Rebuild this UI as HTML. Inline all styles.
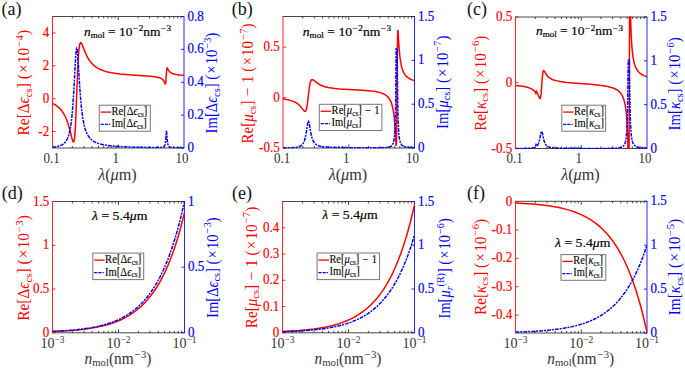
<!DOCTYPE html><html><head><meta charset="utf-8"><style>html,body{margin:0;padding:0;background:#fff;}svg{display:block;}svg text{font-family:"Liberation Serif",serif;}</style></head><body><svg width="685" height="370" viewBox="0 0 685 370">
<rect width="685" height="370" fill="#fff"/>
<defs>
<clipPath id="ca"><rect x="52.00" y="16.00" width="132.50" height="132.50"/></clipPath>
<clipPath id="cb"><rect x="282.50" y="16.00" width="132.50" height="132.50"/></clipPath>
<clipPath id="cc"><rect x="515.00" y="16.50" width="132.50" height="132.50"/></clipPath>
<clipPath id="cd"><rect x="52.00" y="201.00" width="133.00" height="132.30"/></clipPath>
<clipPath id="ce"><rect x="282.00" y="201.00" width="133.00" height="132.30"/></clipPath>
<clipPath id="cf"><rect x="515.00" y="200.80" width="132.50" height="132.70"/></clipPath>
</defs>
<path d="M72.29 16.50v2.0M72.29 148.00v-2.0M83.87 16.50v2.0M83.87 148.00v-2.0M92.09 16.50v2.0M92.09 148.00v-2.0M98.46 16.50v2.0M98.46 148.00v-2.0M103.66 16.50v2.0M103.66 148.00v-2.0M108.07 16.50v2.0M108.07 148.00v-2.0M111.88 16.50v2.0M111.88 148.00v-2.0M115.24 16.50v2.0M115.24 148.00v-2.0M118.25 16.50v3.5M118.25 148.00v-3.5M138.04 16.50v2.0M138.04 148.00v-2.0M149.62 16.50v2.0M149.62 148.00v-2.0M157.84 16.50v2.0M157.84 148.00v-2.0M164.21 16.50v2.0M164.21 148.00v-2.0M169.41 16.50v2.0M169.41 148.00v-2.0M173.82 16.50v2.0M173.82 148.00v-2.0M177.63 16.50v2.0M177.63 148.00v-2.0M180.99 16.50v2.0M180.99 148.00v-2.0" stroke="#262626" stroke-width="0.85" fill="none"/>
<path d="M52.50 16.50H184.00M52.50 148.00H184.00" stroke="#262626" stroke-width="0.85" fill="none"/>
<path d="M302.79 16.50v2.0M302.79 148.00v-2.0M314.37 16.50v2.0M314.37 148.00v-2.0M322.59 16.50v2.0M322.59 148.00v-2.0M328.96 16.50v2.0M328.96 148.00v-2.0M334.16 16.50v2.0M334.16 148.00v-2.0M338.57 16.50v2.0M338.57 148.00v-2.0M342.38 16.50v2.0M342.38 148.00v-2.0M345.74 16.50v2.0M345.74 148.00v-2.0M348.75 16.50v3.5M348.75 148.00v-3.5M368.54 16.50v2.0M368.54 148.00v-2.0M380.12 16.50v2.0M380.12 148.00v-2.0M388.34 16.50v2.0M388.34 148.00v-2.0M394.71 16.50v2.0M394.71 148.00v-2.0M399.91 16.50v2.0M399.91 148.00v-2.0M404.32 16.50v2.0M404.32 148.00v-2.0M408.13 16.50v2.0M408.13 148.00v-2.0M411.49 16.50v2.0M411.49 148.00v-2.0" stroke="#262626" stroke-width="0.85" fill="none"/>
<path d="M283.00 16.50H414.50M283.00 148.00H414.50" stroke="#262626" stroke-width="0.85" fill="none"/>
<path d="M535.29 17.00v2.0M535.29 148.50v-2.0M546.87 17.00v2.0M546.87 148.50v-2.0M555.09 17.00v2.0M555.09 148.50v-2.0M561.46 17.00v2.0M561.46 148.50v-2.0M566.66 17.00v2.0M566.66 148.50v-2.0M571.07 17.00v2.0M571.07 148.50v-2.0M574.88 17.00v2.0M574.88 148.50v-2.0M578.24 17.00v2.0M578.24 148.50v-2.0M581.25 17.00v3.5M581.25 148.50v-3.5M601.04 17.00v2.0M601.04 148.50v-2.0M612.62 17.00v2.0M612.62 148.50v-2.0M620.84 17.00v2.0M620.84 148.50v-2.0M627.21 17.00v2.0M627.21 148.50v-2.0M632.41 17.00v2.0M632.41 148.50v-2.0M636.82 17.00v2.0M636.82 148.50v-2.0M640.63 17.00v2.0M640.63 148.50v-2.0M643.99 17.00v2.0M643.99 148.50v-2.0" stroke="#262626" stroke-width="0.85" fill="none"/>
<path d="M515.50 17.00H647.00M515.50 148.50H647.00" stroke="#262626" stroke-width="0.85" fill="none"/>
<path d="M72.37 201.50v2.0M72.37 332.80v-2.0M83.99 201.50v2.0M83.99 332.80v-2.0M92.24 201.50v2.0M92.24 332.80v-2.0M98.63 201.50v2.0M98.63 332.80v-2.0M103.86 201.50v2.0M103.86 332.80v-2.0M108.28 201.50v2.0M108.28 332.80v-2.0M112.10 201.50v2.0M112.10 332.80v-2.0M115.48 201.50v2.0M115.48 332.80v-2.0M118.50 201.50v3.5M118.50 332.80v-3.5M138.37 201.50v2.0M138.37 332.80v-2.0M149.99 201.50v2.0M149.99 332.80v-2.0M158.24 201.50v2.0M158.24 332.80v-2.0M164.63 201.50v2.0M164.63 332.80v-2.0M169.86 201.50v2.0M169.86 332.80v-2.0M174.28 201.50v2.0M174.28 332.80v-2.0M178.10 201.50v2.0M178.10 332.80v-2.0M181.48 201.50v2.0M181.48 332.80v-2.0" stroke="#262626" stroke-width="0.85" fill="none"/>
<path d="M52.50 201.50H184.50M52.50 332.80H184.50" stroke="#262626" stroke-width="0.85" fill="none"/>
<path d="M302.37 201.50v2.0M302.37 332.80v-2.0M313.99 201.50v2.0M313.99 332.80v-2.0M322.24 201.50v2.0M322.24 332.80v-2.0M328.63 201.50v2.0M328.63 332.80v-2.0M333.86 201.50v2.0M333.86 332.80v-2.0M338.28 201.50v2.0M338.28 332.80v-2.0M342.10 201.50v2.0M342.10 332.80v-2.0M345.48 201.50v2.0M345.48 332.80v-2.0M348.50 201.50v3.5M348.50 332.80v-3.5M368.37 201.50v2.0M368.37 332.80v-2.0M379.99 201.50v2.0M379.99 332.80v-2.0M388.24 201.50v2.0M388.24 332.80v-2.0M394.63 201.50v2.0M394.63 332.80v-2.0M399.86 201.50v2.0M399.86 332.80v-2.0M404.28 201.50v2.0M404.28 332.80v-2.0M408.10 201.50v2.0M408.10 332.80v-2.0M411.48 201.50v2.0M411.48 332.80v-2.0" stroke="#262626" stroke-width="0.85" fill="none"/>
<path d="M282.50 201.50H414.50M282.50 332.80H414.50" stroke="#262626" stroke-width="0.85" fill="none"/>
<path d="M535.29 201.30v2.0M535.29 333.00v-2.0M546.87 201.30v2.0M546.87 333.00v-2.0M555.09 201.30v2.0M555.09 333.00v-2.0M561.46 201.30v2.0M561.46 333.00v-2.0M566.66 201.30v2.0M566.66 333.00v-2.0M571.07 201.30v2.0M571.07 333.00v-2.0M574.88 201.30v2.0M574.88 333.00v-2.0M578.24 201.30v2.0M578.24 333.00v-2.0M581.25 201.30v3.5M581.25 333.00v-3.5M601.04 201.30v2.0M601.04 333.00v-2.0M612.62 201.30v2.0M612.62 333.00v-2.0M620.84 201.30v2.0M620.84 333.00v-2.0M627.21 201.30v2.0M627.21 333.00v-2.0M632.41 201.30v2.0M632.41 333.00v-2.0M636.82 201.30v2.0M636.82 333.00v-2.0M640.63 201.30v2.0M640.63 333.00v-2.0M643.99 201.30v2.0M643.99 333.00v-2.0" stroke="#262626" stroke-width="0.85" fill="none"/>
<path d="M515.50 201.30H647.00M515.50 333.00H647.00" stroke="#262626" stroke-width="0.85" fill="none"/>
<path d="M52.50 131.56h3M52.50 98.69h3M52.50 65.81h3M52.50 32.94h3" stroke="#ff0000" stroke-width="0.85" fill="none"/>
<path d="M184.00 148.00h-3M184.00 115.12h-3M184.00 82.25h-3M184.00 49.38h-3M184.00 16.50h-3" stroke="#0000ff" stroke-width="0.85" fill="none"/>
<path d="M283.00 148.00h3M283.00 97.62h3M283.00 47.23h3" stroke="#ff0000" stroke-width="0.85" fill="none"/>
<path d="M414.50 148.00h-3M414.50 104.17h-3M414.50 60.33h-3M414.50 16.50h-3" stroke="#0000ff" stroke-width="0.85" fill="none"/>
<path d="M515.50 148.50h3M515.50 82.75h3M515.50 17.00h3" stroke="#ff0000" stroke-width="0.85" fill="none"/>
<path d="M647.00 148.50h-3M647.00 104.67h-3M647.00 60.83h-3M647.00 17.00h-3" stroke="#0000ff" stroke-width="0.85" fill="none"/>
<path d="M52.50 332.80h3M52.50 289.03h3M52.50 245.27h3M52.50 201.50h3" stroke="#ff0000" stroke-width="0.85" fill="none"/>
<path d="M184.50 332.80h-3M184.50 267.15h-3M184.50 201.50h-3" stroke="#0000ff" stroke-width="0.85" fill="none"/>
<path d="M282.50 332.80h3M282.50 306.54h3M282.50 280.28h3M282.50 254.02h3M282.50 227.76h3" stroke="#ff0000" stroke-width="0.85" fill="none"/>
<path d="M414.50 332.80h-3M414.50 289.03h-3M414.50 245.27h-3M414.50 201.50h-3" stroke="#0000ff" stroke-width="0.85" fill="none"/>
<path d="M515.50 201.58h3M515.50 229.97h3M515.50 258.35h3M515.50 286.73h3M515.50 315.12h3" stroke="#ff0000" stroke-width="0.85" fill="none"/>
<path d="M647.00 333.00h-3M647.00 289.10h-3M647.00 245.20h-3M647.00 201.30h-3" stroke="#0000ff" stroke-width="0.85" fill="none"/>
<path d="M52.50 16.10V148.40" stroke="#ff0000" stroke-width="0.85"/>
<path d="M184.00 16.10V148.40" stroke="#0000ff" stroke-width="0.85"/>
<path d="M283.00 16.10V148.40" stroke="#ff0000" stroke-width="0.85"/>
<path d="M414.50 16.10V148.40" stroke="#0000ff" stroke-width="0.85"/>
<path d="M515.50 16.60V148.90" stroke="#ff0000" stroke-width="0.85"/>
<path d="M647.00 16.60V148.90" stroke="#0000ff" stroke-width="0.85"/>
<path d="M52.50 201.10V333.20" stroke="#ff0000" stroke-width="0.85"/>
<path d="M184.50 201.10V333.20" stroke="#0000ff" stroke-width="0.85"/>
<path d="M282.50 201.10V333.20" stroke="#ff0000" stroke-width="0.85"/>
<path d="M414.50 201.10V333.20" stroke="#0000ff" stroke-width="0.85"/>
<path d="M515.50 200.90V333.40" stroke="#ff0000" stroke-width="0.85"/>
<path d="M647.00 200.90V333.40" stroke="#0000ff" stroke-width="0.85"/>
<path d="M52.50,103.34L56.08,105.40L57.70,106.60L59.18,107.90L60.56,109.33L61.87,110.93L64.21,114.54L66.25,118.77L68.09,123.81L69.47,128.53L71.84,138.01L72.62,140.71L73.28,141.95L73.58,141.98L73.84,141.61L74.30,139.83L74.70,136.84L75.49,125.75L77.62,71.88L78.48,55.49L78.94,49.82L79.43,45.87L79.99,43.47L80.29,42.87L80.62,42.62L80.91,42.68L81.21,42.94L81.93,44.19L85.19,52.40L87.16,56.62L89.03,59.82L91.07,62.57L93.80,65.35L96.89,67.65L100.48,69.57L104.65,71.15L107.74,72.01L111.20,72.77L119.45,73.99L128.95,74.85L150.13,76.23L154.41,76.66L157.53,77.17L160.42,78.04L161.50,78.59L162.40,79.25L163.12,79.98L163.75,80.87L165.23,83.89L165.49,83.89L165.55,83.78L165.80,82.45L166.63,70.42L166.86,68.60L167.14,67.94L167.45,68.17L168.56,70.34L169.45,71.58L170.56,72.56L171.95,73.33L173.87,73.97L176.37,74.47L179.66,74.88L184.00,75.23" stroke="#ff0000" stroke-width="1.5" fill="none" clip-path="url(#ca)"/>
<path d="M52.50,147.27L56.41,146.72L59.47,145.96L61.94,144.91L63.98,143.50L65.69,141.65L67.13,139.28L68.38,136.25L69.43,132.61L70.29,128.54L71.05,123.78L71.74,118.17L72.39,111.37L73.58,94.69L75.68,56.40L76.24,50.06L76.50,48.58L76.73,48.17L76.97,48.58L77.23,50.00L77.75,55.42L79.73,86.86L80.75,100.48L81.70,110.15L82.72,117.81L84.20,125.50L85.05,128.68L86.01,131.48L87.06,133.90L88.21,135.95L89.53,137.77L90.97,139.31L92.45,140.53L94.13,141.60L96.00,142.53L98.14,143.35L100.54,144.06L103.27,144.67L109.91,145.67L119.58,146.49L132.50,147.10L152.43,147.54L158.35,147.56L161.44,147.42L162.84,147.17L163.78,146.74L164.44,146.04L164.93,144.97L165.31,143.38L165.61,141.09L166.32,131.56L166.59,131.56L167.17,139.42L167.55,142.77L168.11,145.11L168.48,145.88L168.95,146.45L169.51,146.85L170.22,147.14L172.39,147.51L176.31,147.70L184.00,147.81" stroke="#0000ff" stroke-width="1.5" fill="none" stroke-dasharray="3.8 1.0 2.0 1.1" clip-path="url(#ca)"/>
<path d="M283.00,98.98L286.91,99.61L290.23,100.38L293.10,101.34L295.56,102.49L297.70,103.87L299.61,105.51L301.09,107.13L304.21,111.03L304.87,111.42L305.39,111.32L305.85,110.75L306.25,109.78L307.00,106.36L307.66,101.64L309.14,88.85L310.00,83.55L310.46,81.73L310.95,80.49L311.48,79.78L312.10,79.52L312.63,79.61L313.29,79.96L317.30,83.19L320.32,85.00L323.97,86.46L328.41,87.58L333.34,88.35L339.46,88.96L362.64,90.23L370.70,90.88L374.42,91.36L377.61,91.94L380.33,92.64L382.67,93.46L384.51,94.35L386.12,95.38L387.54,96.58L388.75,97.95L389.84,99.57L390.76,101.37L391.59,103.51L392.33,105.98L393.46,111.61L394.37,118.94L395.08,127.98L396.00,143.87L396.24,145.89L396.46,142.79L396.65,132.86L397.34,49.39L397.54,36.14L397.76,30.71L397.94,30.72L398.06,31.87L399.10,48.11L399.96,57.26L401.01,64.16L401.64,66.95L402.36,69.38L403.23,71.64L404.24,73.59L405.39,75.25L406.74,76.69L408.29,77.92L410.06,78.96L412.13,79.85L414.50,80.59" stroke="#ff0000" stroke-width="1.5" fill="none" clip-path="url(#cb)"/>
<path d="M283.00,147.91L291.55,147.68L296.61,147.19L298.42,146.80L299.90,146.27L301.12,145.59L302.17,144.70L303.03,143.63L303.75,142.35L304.41,140.75L305.00,138.82L306.02,134.00L307.66,123.43L308.06,121.84L308.42,121.32L308.78,121.78L309.18,123.25L310.65,131.92L311.41,135.61L312.13,138.26L312.92,140.37L314.04,142.40L315.42,143.96L317.13,145.12L319.30,145.97L321.60,146.51L324.50,146.91L333.02,147.44L348.34,147.75L372.08,147.86L381.42,147.78L386.52,147.51L389.57,146.94L390.66,146.48L391.53,145.88L392.28,145.04L392.89,143.96L393.40,142.56L393.82,140.80L394.49,135.85L394.98,128.39L395.36,117.27L395.66,101.52L396.14,48.67L397.21,48.67L397.56,90.10L397.99,115.42L398.60,130.74L399.01,135.74L399.53,139.44L400.12,141.89L400.87,143.72L401.84,145.05L403.10,146.00L404.77,146.66L407.00,147.11L410.09,147.42L414.50,147.63" stroke="#0000ff" stroke-width="1.5" fill="none" stroke-dasharray="3.8 1.0 2.0 1.1" clip-path="url(#cb)"/>
<path d="M515.50,85.39L520.24,85.93L524.08,86.54L527.24,87.24L529.84,88.08L531.97,89.09L533.65,90.27L534.77,91.48L535.82,93.29L535.99,92.94L536.25,91.36L536.41,91.15L539.31,97.63L539.77,98.37L540.13,98.51L540.39,98.16L540.62,97.40L541.08,94.14L542.23,78.30L542.66,73.89L543.12,71.43L543.38,70.85L543.68,70.67L543.98,70.82L544.34,71.25L546.90,75.31L547.89,76.44L548.94,77.40L550.32,78.37L551.93,79.23L553.78,79.97L555.95,80.62L560.58,81.57L566.73,82.38L593.40,84.58L603.27,85.71L607.67,86.49L611.29,87.40L614.31,88.48L616.81,89.76L618.42,90.90L619.81,92.17L621.02,93.64L622.07,95.31L623.00,97.21L623.82,99.45L624.53,101.97L625.15,104.87L626.23,112.51L627.05,122.72L627.68,136.30L628.22,155.08L629.07,155.08L629.55,10.42L630.38,10.44L631.11,33.46L631.55,41.86L632.06,48.81L633.00,56.86L633.57,60.14L634.22,62.98L635.09,65.78L636.09,68.17L637.27,70.21L638.65,71.96L640.26,73.45L642.17,74.74L644.40,75.84L647.00,76.77" stroke="#ff0000" stroke-width="1.5" fill="none" clip-path="url(#cc)"/>
<path d="M515.50,148.47L524.54,148.37L529.74,148.16L533.06,147.76L534.18,147.46L534.97,147.09L535.59,146.35L536.08,144.74L536.58,145.61L536.78,145.71L537.01,145.65L537.76,144.86L538.49,143.50L539.54,140.08L541.05,132.51L541.35,131.62L541.61,131.35L541.91,131.67L542.23,132.68L544.04,140.77L544.63,142.48L545.33,143.90L546.31,145.23L547.53,146.20L549.07,146.92L551.08,147.43L556.28,147.97L565.45,148.26L587.91,148.41L609.32,148.37L615.14,148.21L618.82,147.89L621.29,147.33L623.00,146.43L623.82,145.62L624.48,144.60L625.04,143.29L625.51,141.66L626.26,137.10L626.82,130.36L627.26,120.51L627.61,106.58L628.23,60.13L629.31,60.13L629.77,96.21L630.27,118.24L630.97,131.89L631.43,136.45L631.99,139.91L632.64,142.27L633.44,144.05L634.46,145.37L635.77,146.33L637.46,147.01L639.73,147.50L642.79,147.83L647.00,148.06" stroke="#0000ff" stroke-width="1.5" fill="none" stroke-dasharray="3.8 1.0 2.0 1.1" clip-path="url(#cc)"/>
<path d="M52.50,331.60L69.70,330.61L76.98,329.98L83.93,329.20L90.21,328.32L96.17,327.29L101.79,326.10L107.09,324.74L112.05,323.21L116.68,321.53L120.98,319.70L125.28,317.58L129.25,315.32L133.22,312.73L136.86,310.01L140.50,306.93L144.14,303.42L147.45,299.83L150.76,295.80L153.73,291.75L156.71,287.25L159.69,282.27L162.67,276.73L165.31,271.31L167.96,265.36L170.61,258.84L173.25,251.68L175.57,244.86L177.88,237.46L180.20,229.44L184.50,212.70" stroke="#ff0000" stroke-width="1.5" fill="none" clip-path="url(#cd)"/>
<path d="M52.50,331.49L61.43,331.01L69.70,330.41L76.98,329.72L83.93,328.87L90.21,327.91L96.17,326.78L101.79,325.47L107.09,323.98L112.05,322.32L116.68,320.48L120.98,318.48L125.28,316.17L129.25,313.69L133.22,310.86L136.86,307.89L140.50,304.51L144.14,300.68L147.45,296.75L150.76,292.34L153.73,287.92L156.71,283.00L159.69,277.55L162.67,271.50L165.31,265.57L167.96,259.07L170.61,251.94L173.25,244.12L175.57,236.66L177.88,228.56L180.20,219.79L184.50,201.50" stroke="#0000ff" stroke-width="1.5" fill="none" stroke-dasharray="3.8 1.0 2.0 1.1" clip-path="url(#cd)"/>
<path d="M282.50,331.52L299.70,330.47L306.98,329.80L313.93,328.97L320.21,328.03L326.17,326.93L331.79,325.66L337.09,324.21L342.05,322.59L346.68,320.80L350.98,318.86L355.28,316.60L359.25,314.19L363.22,311.43L366.86,308.53L370.50,305.25L374.14,301.52L377.45,297.69L380.76,293.40L383.73,289.08L386.71,284.30L389.69,278.99L392.67,273.10L395.31,267.32L397.96,260.99L400.61,254.04L403.25,246.42L405.57,239.15L407.88,231.27L410.20,222.73L414.50,204.91" stroke="#ff0000" stroke-width="1.5" fill="none" clip-path="url(#ce)"/>
<path d="M282.50,331.82L299.70,331.02L313.93,329.88L320.21,329.16L326.17,328.32L331.79,327.35L337.09,326.25L342.05,325.01L346.68,323.64L350.98,322.16L355.28,320.43L359.25,318.60L363.22,316.49L366.86,314.28L370.50,311.77L374.14,308.93L377.45,306.01L380.76,302.73L383.73,299.44L386.71,295.78L389.69,291.73L392.67,287.24L395.31,282.83L397.96,277.99L400.61,272.69L403.25,266.88L405.57,261.33L407.88,255.32L410.20,248.80L414.50,235.20" stroke="#0000ff" stroke-width="1.5" fill="none" stroke-dasharray="3.8 1.0 2.0 1.1" clip-path="url(#ce)"/>
<path d="M515.50,202.89L532.64,203.96L539.89,204.65L546.81,205.49L553.07,206.45L559.00,207.57L564.61,208.87L569.88,210.35L574.82,212.01L579.44,213.84L583.72,215.82L588.01,218.13L591.96,220.58L595.92,223.41L599.54,226.36L603.17,229.71L606.79,233.52L610.09,237.43L613.38,241.81L616.35,246.22L619.32,251.10L622.28,256.52L625.25,262.54L627.88,268.43L630.52,274.90L633.16,281.99L635.79,289.77L638.10,297.19L640.41,305.24L642.72,313.96L647.00,332.15" stroke="#ff0000" stroke-width="1.5" fill="none" clip-path="url(#cf)"/>
<path d="M515.50,332.12L532.64,331.40L546.81,330.37L559.00,328.97L564.61,328.10L569.88,327.10L574.82,325.99L579.44,324.76L583.72,323.43L588.01,321.88L591.96,320.22L595.92,318.33L599.54,316.34L603.17,314.08L606.79,311.52L610.09,308.90L613.38,305.95L616.35,302.99L619.32,299.70L622.28,296.06L625.25,292.01L627.88,288.05L630.52,283.70L633.16,278.93L635.79,273.70L638.10,268.71L640.41,263.30L642.72,257.43L647.00,245.20" stroke="#0000ff" stroke-width="1.5" fill="none" stroke-dasharray="3.8 1.0 2.0 1.1" clip-path="url(#cf)"/>
<text x="1.5" y="14.5" font-size="18" fill="#111">(a)</text>
<text x="231.8" y="14.5" font-size="18" fill="#111">(b)</text>
<text x="467.0" y="14.5" font-size="18" fill="#111">(c)</text>
<text x="1.8" y="199.4" font-size="18" fill="#111">(d)</text>
<text x="232.0" y="199.4" font-size="18" fill="#111">(e)</text>
<text x="467.0" y="199.4" font-size="18" fill="#111">(f)</text>
<text x="49.20" y="135.66" font-size="14" fill="#ff0000" stroke="#ff0000" stroke-width="0.2" text-anchor="end" textLength="10.85" lengthAdjust="spacingAndGlyphs">-2</text>
<text x="49.20" y="102.79" font-size="14" fill="#ff0000" stroke="#ff0000" stroke-width="0.2" text-anchor="end" textLength="6.51" lengthAdjust="spacingAndGlyphs">0</text>
<text x="49.20" y="69.91" font-size="14" fill="#ff0000" stroke="#ff0000" stroke-width="0.2" text-anchor="end" textLength="6.51" lengthAdjust="spacingAndGlyphs">2</text>
<text x="49.20" y="37.04" font-size="14" fill="#ff0000" stroke="#ff0000" stroke-width="0.2" text-anchor="end" textLength="6.51" lengthAdjust="spacingAndGlyphs">4</text>
<text x="187.60" y="152.10" font-size="14" fill="#0000ff" stroke="#0000ff" stroke-width="0.2" textLength="6.51" lengthAdjust="spacingAndGlyphs">0</text>
<text x="187.60" y="119.22" font-size="14" fill="#0000ff" stroke="#0000ff" stroke-width="0.2" textLength="16.28" lengthAdjust="spacingAndGlyphs">0.2</text>
<text x="187.60" y="86.35" font-size="14" fill="#0000ff" stroke="#0000ff" stroke-width="0.2" textLength="16.28" lengthAdjust="spacingAndGlyphs">0.4</text>
<text x="187.60" y="53.48" font-size="14" fill="#0000ff" stroke="#0000ff" stroke-width="0.2" textLength="16.28" lengthAdjust="spacingAndGlyphs">0.6</text>
<text x="187.60" y="20.60" font-size="14" fill="#0000ff" stroke="#0000ff" stroke-width="0.2" textLength="16.28" lengthAdjust="spacingAndGlyphs">0.8</text>
<text x="279.70" y="152.10" font-size="14" fill="#ff0000" stroke="#ff0000" stroke-width="0.2" text-anchor="end" textLength="20.61" lengthAdjust="spacingAndGlyphs">-0.5</text>
<text x="279.70" y="101.72" font-size="14" fill="#ff0000" stroke="#ff0000" stroke-width="0.2" text-anchor="end" textLength="6.51" lengthAdjust="spacingAndGlyphs">0</text>
<text x="279.70" y="51.33" font-size="14" fill="#ff0000" stroke="#ff0000" stroke-width="0.2" text-anchor="end" textLength="16.28" lengthAdjust="spacingAndGlyphs">0.5</text>
<text x="418.10" y="152.10" font-size="14" fill="#0000ff" stroke="#0000ff" stroke-width="0.2" textLength="6.51" lengthAdjust="spacingAndGlyphs">0</text>
<text x="418.10" y="108.27" font-size="14" fill="#0000ff" stroke="#0000ff" stroke-width="0.2" textLength="16.28" lengthAdjust="spacingAndGlyphs">0.5</text>
<text x="418.10" y="64.43" font-size="14" fill="#0000ff" stroke="#0000ff" stroke-width="0.2" textLength="6.51" lengthAdjust="spacingAndGlyphs">1</text>
<text x="418.10" y="20.60" font-size="14" fill="#0000ff" stroke="#0000ff" stroke-width="0.2" textLength="16.28" lengthAdjust="spacingAndGlyphs">1.5</text>
<text x="512.20" y="152.60" font-size="14" fill="#ff0000" stroke="#ff0000" stroke-width="0.2" text-anchor="end" textLength="20.61" lengthAdjust="spacingAndGlyphs">-0.5</text>
<text x="512.20" y="86.85" font-size="14" fill="#ff0000" stroke="#ff0000" stroke-width="0.2" text-anchor="end" textLength="6.51" lengthAdjust="spacingAndGlyphs">0</text>
<text x="512.20" y="21.10" font-size="14" fill="#ff0000" stroke="#ff0000" stroke-width="0.2" text-anchor="end" textLength="16.28" lengthAdjust="spacingAndGlyphs">0.5</text>
<text x="650.60" y="152.60" font-size="14" fill="#0000ff" stroke="#0000ff" stroke-width="0.2" textLength="6.51" lengthAdjust="spacingAndGlyphs">0</text>
<text x="650.60" y="108.77" font-size="14" fill="#0000ff" stroke="#0000ff" stroke-width="0.2" textLength="16.28" lengthAdjust="spacingAndGlyphs">0.5</text>
<text x="650.60" y="64.93" font-size="14" fill="#0000ff" stroke="#0000ff" stroke-width="0.2" textLength="6.51" lengthAdjust="spacingAndGlyphs">1</text>
<text x="650.60" y="21.10" font-size="14" fill="#0000ff" stroke="#0000ff" stroke-width="0.2" textLength="16.28" lengthAdjust="spacingAndGlyphs">1.5</text>
<text x="49.20" y="336.90" font-size="14" fill="#ff0000" stroke="#ff0000" stroke-width="0.2" text-anchor="end" textLength="6.51" lengthAdjust="spacingAndGlyphs">0</text>
<text x="49.20" y="293.13" font-size="14" fill="#ff0000" stroke="#ff0000" stroke-width="0.2" text-anchor="end" textLength="16.28" lengthAdjust="spacingAndGlyphs">0.5</text>
<text x="49.20" y="249.37" font-size="14" fill="#ff0000" stroke="#ff0000" stroke-width="0.2" text-anchor="end" textLength="6.51" lengthAdjust="spacingAndGlyphs">1</text>
<text x="49.20" y="205.60" font-size="14" fill="#ff0000" stroke="#ff0000" stroke-width="0.2" text-anchor="end" textLength="16.28" lengthAdjust="spacingAndGlyphs">1.5</text>
<text x="188.10" y="336.90" font-size="14" fill="#0000ff" stroke="#0000ff" stroke-width="0.2" textLength="6.51" lengthAdjust="spacingAndGlyphs">0</text>
<text x="188.10" y="271.25" font-size="14" fill="#0000ff" stroke="#0000ff" stroke-width="0.2" textLength="16.28" lengthAdjust="spacingAndGlyphs">0.5</text>
<text x="188.10" y="205.60" font-size="14" fill="#0000ff" stroke="#0000ff" stroke-width="0.2" textLength="6.51" lengthAdjust="spacingAndGlyphs">1</text>
<text x="279.20" y="336.90" font-size="14" fill="#ff0000" stroke="#ff0000" stroke-width="0.2" text-anchor="end" textLength="6.51" lengthAdjust="spacingAndGlyphs">0</text>
<text x="279.20" y="310.64" font-size="14" fill="#ff0000" stroke="#ff0000" stroke-width="0.2" text-anchor="end" textLength="16.28" lengthAdjust="spacingAndGlyphs">0.1</text>
<text x="279.20" y="284.38" font-size="14" fill="#ff0000" stroke="#ff0000" stroke-width="0.2" text-anchor="end" textLength="16.28" lengthAdjust="spacingAndGlyphs">0.2</text>
<text x="279.20" y="258.12" font-size="14" fill="#ff0000" stroke="#ff0000" stroke-width="0.2" text-anchor="end" textLength="16.28" lengthAdjust="spacingAndGlyphs">0.3</text>
<text x="279.20" y="231.86" font-size="14" fill="#ff0000" stroke="#ff0000" stroke-width="0.2" text-anchor="end" textLength="16.28" lengthAdjust="spacingAndGlyphs">0.4</text>
<text x="418.10" y="336.90" font-size="14" fill="#0000ff" stroke="#0000ff" stroke-width="0.2" textLength="6.51" lengthAdjust="spacingAndGlyphs">0</text>
<text x="418.10" y="293.13" font-size="14" fill="#0000ff" stroke="#0000ff" stroke-width="0.2" textLength="16.28" lengthAdjust="spacingAndGlyphs">0.5</text>
<text x="418.10" y="249.37" font-size="14" fill="#0000ff" stroke="#0000ff" stroke-width="0.2" textLength="6.51" lengthAdjust="spacingAndGlyphs">1</text>
<text x="418.10" y="205.60" font-size="14" fill="#0000ff" stroke="#0000ff" stroke-width="0.2" textLength="16.28" lengthAdjust="spacingAndGlyphs">1.5</text>
<text x="512.20" y="205.68" font-size="14" fill="#ff0000" stroke="#ff0000" stroke-width="0.2" text-anchor="end" textLength="6.51" lengthAdjust="spacingAndGlyphs">0</text>
<text x="512.20" y="234.07" font-size="14" fill="#ff0000" stroke="#ff0000" stroke-width="0.2" text-anchor="end" textLength="20.61" lengthAdjust="spacingAndGlyphs">-0.1</text>
<text x="512.20" y="262.45" font-size="14" fill="#ff0000" stroke="#ff0000" stroke-width="0.2" text-anchor="end" textLength="20.61" lengthAdjust="spacingAndGlyphs">-0.2</text>
<text x="512.20" y="290.83" font-size="14" fill="#ff0000" stroke="#ff0000" stroke-width="0.2" text-anchor="end" textLength="20.61" lengthAdjust="spacingAndGlyphs">-0.3</text>
<text x="512.20" y="319.22" font-size="14" fill="#ff0000" stroke="#ff0000" stroke-width="0.2" text-anchor="end" textLength="20.61" lengthAdjust="spacingAndGlyphs">-0.4</text>
<text x="650.60" y="337.10" font-size="14" fill="#0000ff" stroke="#0000ff" stroke-width="0.2" textLength="6.51" lengthAdjust="spacingAndGlyphs">0</text>
<text x="650.60" y="293.20" font-size="14" fill="#0000ff" stroke="#0000ff" stroke-width="0.2" textLength="16.28" lengthAdjust="spacingAndGlyphs">0.5</text>
<text x="650.60" y="249.30" font-size="14" fill="#0000ff" stroke="#0000ff" stroke-width="0.2" textLength="6.51" lengthAdjust="spacingAndGlyphs">1</text>
<text x="650.60" y="205.40" font-size="14" fill="#0000ff" stroke="#0000ff" stroke-width="0.2" textLength="16.28" lengthAdjust="spacingAndGlyphs">1.5</text>
<text x="51.70" y="163.0" font-size="14" fill="#333333" text-anchor="middle" textLength="16.28" lengthAdjust="spacingAndGlyphs">0.1</text>
<text x="115.65" y="163.0" font-size="14" fill="#333333" text-anchor="middle" textLength="6.51" lengthAdjust="spacingAndGlyphs">1</text>
<text x="182.00" y="163.0" font-size="14" fill="#333333" text-anchor="middle" textLength="13.02" lengthAdjust="spacingAndGlyphs">10</text>
<text x="282.20" y="163.0" font-size="14" fill="#333333" text-anchor="middle" textLength="16.28" lengthAdjust="spacingAndGlyphs">0.1</text>
<text x="346.15" y="163.0" font-size="14" fill="#333333" text-anchor="middle" textLength="6.51" lengthAdjust="spacingAndGlyphs">1</text>
<text x="412.50" y="163.0" font-size="14" fill="#333333" text-anchor="middle" textLength="13.02" lengthAdjust="spacingAndGlyphs">10</text>
<text x="514.70" y="163.0" font-size="14" fill="#333333" text-anchor="middle" textLength="16.28" lengthAdjust="spacingAndGlyphs">0.1</text>
<text x="578.65" y="163.0" font-size="14" fill="#333333" text-anchor="middle" textLength="6.51" lengthAdjust="spacingAndGlyphs">1</text>
<text x="645.00" y="163.0" font-size="14" fill="#333333" text-anchor="middle" textLength="13.02" lengthAdjust="spacingAndGlyphs">10</text>
<text x="52.50" y="347.9" font-size="14" fill="#333333" text-anchor="middle">10<tspan dy="-5" font-size="9.5">−3</tspan></text>
<text x="118.50" y="347.9" font-size="14" fill="#333333" text-anchor="middle">10<tspan dy="-5" font-size="9.5">−2</tspan></text>
<text x="184.50" y="347.9" font-size="14" fill="#333333" text-anchor="middle">10<tspan dy="-5" font-size="9.5">−1</tspan></text>
<text x="282.50" y="347.9" font-size="14" fill="#333333" text-anchor="middle">10<tspan dy="-5" font-size="9.5">−3</tspan></text>
<text x="348.50" y="347.9" font-size="14" fill="#333333" text-anchor="middle">10<tspan dy="-5" font-size="9.5">−2</tspan></text>
<text x="414.50" y="347.9" font-size="14" fill="#333333" text-anchor="middle">10<tspan dy="-5" font-size="9.5">−1</tspan></text>
<text x="515.50" y="347.9" font-size="14" fill="#333333" text-anchor="middle">10<tspan dy="-5" font-size="9.5">−3</tspan></text>
<text x="581.25" y="347.9" font-size="14" fill="#333333" text-anchor="middle">10<tspan dy="-5" font-size="9.5">−2</tspan></text>
<text x="647.00" y="347.9" font-size="14" fill="#333333" text-anchor="middle">10<tspan dy="-5" font-size="9.5">−1</tspan></text>
<text x="117.45" y="179.6" font-size="16" fill="#333333" text-anchor="middle" textLength="38.6" lengthAdjust="spacingAndGlyphs"><tspan font-style="italic">λ</tspan>(<tspan font-style="italic">μ</tspan>m)</text>
<text x="347.95" y="179.6" font-size="16" fill="#333333" text-anchor="middle" textLength="38.6" lengthAdjust="spacingAndGlyphs"><tspan font-style="italic">λ</tspan>(<tspan font-style="italic">μ</tspan>m)</text>
<text x="580.45" y="179.6" font-size="16" fill="#333333" text-anchor="middle" textLength="38.6" lengthAdjust="spacingAndGlyphs"><tspan font-style="italic">λ</tspan>(<tspan font-style="italic">μ</tspan>m)</text>
<text x="118.00" y="363.9" font-size="16" fill="#333333" text-anchor="middle" textLength="66.8" lengthAdjust="spacingAndGlyphs"><tspan font-style="italic">n</tspan><tspan dy="2.56" font-size="11.20">mol</tspan><tspan dy="-2.56">(nm</tspan><tspan dy="-6.40" dx="0.67" font-size="11.20">−</tspan><tspan dx="0.67" font-size="11.20">3</tspan><tspan dy="6.40">)</tspan></text>
<text x="348.00" y="363.9" font-size="16" fill="#333333" text-anchor="middle" textLength="66.8" lengthAdjust="spacingAndGlyphs"><tspan font-style="italic">n</tspan><tspan dy="2.56" font-size="11.20">mol</tspan><tspan dy="-2.56">(nm</tspan><tspan dy="-6.40" dx="0.67" font-size="11.20">−</tspan><tspan dx="0.67" font-size="11.20">3</tspan><tspan dy="6.40">)</tspan></text>
<text x="580.75" y="363.9" font-size="16" fill="#333333" text-anchor="middle" textLength="66.8" lengthAdjust="spacingAndGlyphs"><tspan font-style="italic">n</tspan><tspan dy="2.56" font-size="11.20">mol</tspan><tspan dy="-2.56">(nm</tspan><tspan dy="-6.40" dx="0.67" font-size="11.20">−</tspan><tspan dx="0.67" font-size="11.20">3</tspan><tspan dy="6.40">)</tspan></text>
<text transform="translate(29.00,82.70) rotate(-90)" font-size="16" fill="#ff0000" text-anchor="middle" textLength="105.4" lengthAdjust="spacingAndGlyphs"><tspan>Re[</tspan><tspan>Δ</tspan><tspan font-style="italic">ϵ</tspan><tspan dy="2.56" font-size="11.20">cs</tspan><tspan dy="-2.56">] (</tspan><tspan dx="1.28">×</tspan><tspan dx="1.28">10</tspan><tspan dy="-6.40" dx="0.67" font-size="11.20">−</tspan><tspan dx="0.67" font-size="11.20">4</tspan><tspan dy="6.40">)</tspan></text>
<text transform="translate(217.00,83.05) rotate(-90)" font-size="16" fill="#0000ff" text-anchor="middle" textLength="100.7" lengthAdjust="spacingAndGlyphs"><tspan>Im[</tspan><tspan>Δ</tspan><tspan font-style="italic">ϵ</tspan><tspan dy="2.56" font-size="11.20">cs</tspan><tspan dy="-2.56">] (</tspan><tspan dx="1.28">×</tspan><tspan dx="1.28">10</tspan><tspan dy="-6.40" dx="0.67" font-size="11.20">−</tspan><tspan dx="0.67" font-size="11.20">3</tspan><tspan dy="6.40">)</tspan></text>
<text transform="translate(253.00,83.50) rotate(-90)" font-size="16" fill="#ff0000" text-anchor="middle" textLength="119.8" lengthAdjust="spacingAndGlyphs"><tspan>Re[</tspan><tspan font-style="italic">μ</tspan><tspan dy="2.56" font-size="11.20">cs</tspan><tspan dy="-2.56">] </tspan><tspan dx="0.96">−</tspan><tspan dx="0.96"> 1 (</tspan><tspan dx="1.28">×</tspan><tspan dx="1.28">10</tspan><tspan dy="-6.40" dx="0.67" font-size="11.20">−</tspan><tspan dx="0.67" font-size="11.20">7</tspan><tspan dy="6.40">)</tspan></text>
<text transform="translate(447.80,82.30) rotate(-90)" font-size="16" fill="#0000ff" text-anchor="middle" textLength="93.4" lengthAdjust="spacingAndGlyphs"><tspan>Im[</tspan><tspan font-style="italic">μ</tspan><tspan dy="2.56" font-size="11.20">cs</tspan><tspan dy="-2.56">] (</tspan><tspan dx="1.28">×</tspan><tspan dx="1.28">10</tspan><tspan dy="-6.40" dx="0.67" font-size="11.20">−</tspan><tspan dx="0.67" font-size="11.20">7</tspan><tspan dy="6.40">)</tspan></text>
<text transform="translate(485.50,83.15) rotate(-90)" font-size="16" fill="#ff0000" text-anchor="middle" textLength="95.1" lengthAdjust="spacingAndGlyphs"><tspan>Re[</tspan><tspan font-style="italic">κ</tspan><tspan dy="2.56" font-size="11.20">cs</tspan><tspan dy="-2.56">] (</tspan><tspan dx="1.28">×</tspan><tspan dx="1.28">10</tspan><tspan dy="-6.40" dx="0.67" font-size="11.20">−</tspan><tspan dx="0.67" font-size="11.20">6</tspan><tspan dy="6.40">)</tspan></text>
<text transform="translate(680.00,83.90) rotate(-90)" font-size="16" fill="#0000ff" text-anchor="middle" textLength="93.0" lengthAdjust="spacingAndGlyphs"><tspan>Im[</tspan><tspan font-style="italic">κ</tspan><tspan dy="2.56" font-size="11.20">cs</tspan><tspan dy="-2.56">] (</tspan><tspan dx="1.28">×</tspan><tspan dx="1.28">10</tspan><tspan dy="-6.40" dx="0.67" font-size="11.20">−</tspan><tspan dx="0.67" font-size="11.20">6</tspan><tspan dy="6.40">)</tspan></text>
<text transform="translate(29.00,268.00) rotate(-90)" font-size="16" fill="#ff0000" text-anchor="middle" textLength="105.6" lengthAdjust="spacingAndGlyphs"><tspan>Re[</tspan><tspan>Δ</tspan><tspan font-style="italic">ϵ</tspan><tspan dy="2.56" font-size="11.20">cs</tspan><tspan dy="-2.56">] (</tspan><tspan dx="1.28">×</tspan><tspan dx="1.28">10</tspan><tspan dy="-6.40" dx="0.67" font-size="11.20">−</tspan><tspan dx="0.67" font-size="11.20">3</tspan><tspan dy="6.40">)</tspan></text>
<text transform="translate(217.60,267.65) rotate(-90)" font-size="16" fill="#0000ff" text-anchor="middle" textLength="100.7" lengthAdjust="spacingAndGlyphs"><tspan>Im[</tspan><tspan>Δ</tspan><tspan font-style="italic">ϵ</tspan><tspan dy="2.56" font-size="11.20">cs</tspan><tspan dy="-2.56">] (</tspan><tspan dx="1.28">×</tspan><tspan dx="1.28">10</tspan><tspan dy="-6.40" dx="0.67" font-size="11.20">−</tspan><tspan dx="0.67" font-size="11.20">3</tspan><tspan dy="6.40">)</tspan></text>
<text transform="translate(256.60,267.50) rotate(-90)" font-size="16" fill="#ff0000" text-anchor="middle" textLength="121.4" lengthAdjust="spacingAndGlyphs"><tspan>Re[</tspan><tspan font-style="italic">μ</tspan><tspan dy="2.56" font-size="11.20">cs</tspan><tspan dy="-2.56">] </tspan><tspan dx="0.96">−</tspan><tspan dx="0.96"> 1 (</tspan><tspan dx="1.28">×</tspan><tspan dx="1.28">10</tspan><tspan dy="-6.40" dx="0.67" font-size="11.20">−</tspan><tspan dx="0.67" font-size="11.20">7</tspan><tspan dy="6.40">)</tspan></text>
<text transform="translate(450.00,268.35) rotate(-90)" font-size="16" fill="#0000ff" text-anchor="middle" textLength="100.1" lengthAdjust="spacingAndGlyphs"><tspan>Im[</tspan><tspan font-style="italic">μ</tspan><tspan dy="2.56" font-size="11.20" font-style="italic">r</tspan><tspan dy="-8.96" font-size="11.20">(R)</tspan><tspan dy="6.40">] (</tspan><tspan dx="1.28">×</tspan><tspan dx="1.28">10</tspan><tspan dy="-6.40" dx="0.67" font-size="11.20">−</tspan><tspan dx="0.67" font-size="11.20">6</tspan><tspan dy="6.40">)</tspan></text>
<text transform="translate(485.50,266.95) rotate(-90)" font-size="16" fill="#ff0000" text-anchor="middle" textLength="96.1" lengthAdjust="spacingAndGlyphs"><tspan>Re[</tspan><tspan font-style="italic">κ</tspan><tspan dy="2.56" font-size="11.20">cs</tspan><tspan dy="-2.56">] (</tspan><tspan dx="1.28">×</tspan><tspan dx="1.28">10</tspan><tspan dy="-6.40" dx="0.67" font-size="11.20">−</tspan><tspan dx="0.67" font-size="11.20">6</tspan><tspan dy="6.40">)</tspan></text>
<text transform="translate(680.00,267.05) rotate(-90)" font-size="16" fill="#0000ff" text-anchor="middle" textLength="96.5" lengthAdjust="spacingAndGlyphs"><tspan>Im[</tspan><tspan font-style="italic">κ</tspan><tspan dy="2.56" font-size="11.20">cs</tspan><tspan dy="-2.56">] (</tspan><tspan dx="1.28">×</tspan><tspan dx="1.28">10</tspan><tspan dy="-6.40" dx="0.67" font-size="11.20">−</tspan><tspan dx="0.67" font-size="11.20">5</tspan><tspan dy="6.40">)</tspan></text>
<text x="84.00" y="35.60" font-size="12.5" fill="#000" stroke="#000" stroke-width="0.18" textLength="87.1" lengthAdjust="spacingAndGlyphs"><tspan font-style="italic">n</tspan><tspan dy="1.92" font-size="8.40">mol</tspan><tspan dy="-1.92"> = 10</tspan><tspan dy="-4.80" dx="0.50" font-size="8.40">−</tspan><tspan dx="0.50" font-size="8.40">2</tspan><tspan dy="4.80">nm</tspan><tspan dy="-4.80" dx="0.50" font-size="8.40">−</tspan><tspan dx="0.50" font-size="8.40">3</tspan></text>
<text x="302.80" y="36.00" font-size="12.5" fill="#000" stroke="#000" stroke-width="0.18" textLength="88.4" lengthAdjust="spacingAndGlyphs"><tspan font-style="italic">n</tspan><tspan dy="1.92" font-size="8.40">mol</tspan><tspan dy="-1.92"> = 10</tspan><tspan dy="-4.80" dx="0.50" font-size="8.40">−</tspan><tspan dx="0.50" font-size="8.40">2</tspan><tspan dy="4.80">nm</tspan><tspan dy="-4.80" dx="0.50" font-size="8.40">−</tspan><tspan dx="0.50" font-size="8.40">3</tspan></text>
<text x="536.00" y="35.40" font-size="12.5" fill="#000" stroke="#000" stroke-width="0.18" textLength="87.1" lengthAdjust="spacingAndGlyphs"><tspan font-style="italic">n</tspan><tspan dy="1.92" font-size="8.40">mol</tspan><tspan dy="-1.92"> = 10</tspan><tspan dy="-4.80" dx="0.50" font-size="8.40">−</tspan><tspan dx="0.50" font-size="8.40">2</tspan><tspan dy="4.80">nm</tspan><tspan dy="-4.80" dx="0.50" font-size="8.40">−</tspan><tspan dx="0.50" font-size="8.40">3</tspan></text>
<text x="92.00" y="220.20" font-size="12.5" fill="#000" stroke="#000" stroke-width="0.18" textLength="55.4" lengthAdjust="spacingAndGlyphs"><tspan font-style="italic">λ</tspan> = 5.4<tspan font-style="italic">μ</tspan>m</text>
<text x="322.30" y="219.00" font-size="12.5" fill="#000" stroke="#000" stroke-width="0.18" textLength="55.4" lengthAdjust="spacingAndGlyphs"><tspan font-style="italic">λ</tspan> = 5.4<tspan font-style="italic">μ</tspan>m</text>
<text x="555.00" y="246.50" font-size="12.5" fill="#000" stroke="#000" stroke-width="0.18" textLength="55.4" lengthAdjust="spacingAndGlyphs"><tspan font-style="italic">λ</tspan> = 5.4<tspan font-style="italic">μ</tspan>m</text>
<rect x="99.30" y="105.20" width="51.00" height="26.00" fill="#fff" stroke="#777" stroke-width="1"/>
<path d="M100.60 112.09h10.5" stroke="#ff0000" stroke-width="1.3"/>
<path d="M100.60 124.44h10.5" stroke="#0000ff" stroke-width="1.3" stroke-dasharray="3.2 1.0 3.2 1.0 1.2 1.0"/>
<text x="111.60" y="115.09" font-size="11.6" fill="#000" stroke="#000" stroke-width="0.12" textLength="35.7" lengthAdjust="spacingAndGlyphs"><tspan>Re[</tspan><tspan>Δ</tspan><tspan font-style="italic">ϵ</tspan><tspan dy="1.86" font-size="8.12">cs</tspan><tspan dy="-1.86">]</tspan></text>
<text x="111.60" y="127.24" font-size="11.6" fill="#000" stroke="#000" stroke-width="0.12" textLength="35.2" lengthAdjust="spacingAndGlyphs"><tspan>Im[</tspan><tspan>Δ</tspan><tspan font-style="italic">ϵ</tspan><tspan dy="1.86" font-size="8.12">cs</tspan><tspan dy="-1.86">]</tspan></text>
<rect x="319.30" y="104.30" width="62.60" height="26.20" fill="#fff" stroke="#777" stroke-width="1"/>
<path d="M320.60 111.24h10.5" stroke="#ff0000" stroke-width="1.3"/>
<path d="M320.60 123.69h10.5" stroke="#0000ff" stroke-width="1.3" stroke-dasharray="3.2 1.0 3.2 1.0 1.2 1.0"/>
<text x="331.60" y="114.24" font-size="11.6" fill="#000" stroke="#000" stroke-width="0.12" textLength="48.0" lengthAdjust="spacingAndGlyphs"><tspan>Re[</tspan><tspan font-style="italic">μ</tspan><tspan dy="1.86" font-size="8.12">cs</tspan><tspan dy="-1.86">] </tspan><tspan dx="0.70">−</tspan><tspan dx="0.70"> 1</tspan></text>
<text x="331.60" y="126.49" font-size="11.6" fill="#000" stroke="#000" stroke-width="0.12" textLength="30.0" lengthAdjust="spacingAndGlyphs"><tspan>Im[</tspan><tspan font-style="italic">μ</tspan><tspan dy="1.86" font-size="8.12">cs</tspan><tspan dy="-1.86">]</tspan></text>
<rect x="561.80" y="105.20" width="43.80" height="26.00" fill="#fff" stroke="#777" stroke-width="1"/>
<path d="M563.10 112.09h10.5" stroke="#ff0000" stroke-width="1.3"/>
<path d="M563.10 124.44h10.5" stroke="#0000ff" stroke-width="1.3" stroke-dasharray="3.2 1.0 3.2 1.0 1.2 1.0"/>
<text x="574.10" y="115.09" font-size="11.6" fill="#000" stroke="#000" stroke-width="0.12" textLength="29.8" lengthAdjust="spacingAndGlyphs"><tspan>Re[</tspan><tspan font-style="italic">κ</tspan><tspan dy="1.86" font-size="8.12">cs</tspan><tspan dy="-1.86">]</tspan></text>
<text x="574.10" y="127.24" font-size="11.6" fill="#000" stroke="#000" stroke-width="0.12" textLength="29.8" lengthAdjust="spacingAndGlyphs"><tspan>Im[</tspan><tspan font-style="italic">κ</tspan><tspan dy="1.86" font-size="8.12">cs</tspan><tspan dy="-1.86">]</tspan></text>
<rect x="92.80" y="253.10" width="50.90" height="26.50" fill="#fff" stroke="#777" stroke-width="1"/>
<path d="M94.10 260.12h10.5" stroke="#ff0000" stroke-width="1.3"/>
<path d="M94.10 272.71h10.5" stroke="#0000ff" stroke-width="1.3" stroke-dasharray="3.2 1.0 3.2 1.0 1.2 1.0"/>
<text x="105.10" y="263.12" font-size="11.6" fill="#000" stroke="#000" stroke-width="0.12" textLength="36.3" lengthAdjust="spacingAndGlyphs"><tspan>Re[</tspan><tspan>Δ</tspan><tspan font-style="italic">ϵ</tspan><tspan dy="1.86" font-size="8.12">cs</tspan><tspan dy="-1.86">]</tspan></text>
<text x="105.10" y="275.51" font-size="11.6" fill="#000" stroke="#000" stroke-width="0.12" textLength="36.0" lengthAdjust="spacingAndGlyphs"><tspan>Im[</tspan><tspan>Δ</tspan><tspan font-style="italic">ϵ</tspan><tspan dy="1.86" font-size="8.12">cs</tspan><tspan dy="-1.86">]</tspan></text>
<rect x="317.10" y="253.00" width="62.50" height="26.60" fill="#fff" stroke="#777" stroke-width="1"/>
<path d="M318.40 260.05h10.5" stroke="#ff0000" stroke-width="1.3"/>
<path d="M318.40 272.68h10.5" stroke="#0000ff" stroke-width="1.3" stroke-dasharray="3.2 1.0 3.2 1.0 1.2 1.0"/>
<text x="329.40" y="263.05" font-size="11.6" fill="#000" stroke="#000" stroke-width="0.12" textLength="47.6" lengthAdjust="spacingAndGlyphs"><tspan>Re[</tspan><tspan font-style="italic">μ</tspan><tspan dy="1.86" font-size="8.12">cs</tspan><tspan dy="-1.86">] </tspan><tspan dx="0.70">−</tspan><tspan dx="0.70"> 1</tspan></text>
<text x="329.40" y="275.48" font-size="11.6" fill="#000" stroke="#000" stroke-width="0.12" textLength="30.3" lengthAdjust="spacingAndGlyphs"><tspan>Im[</tspan><tspan font-style="italic">μ</tspan><tspan dy="1.86" font-size="8.12">cs</tspan><tspan dy="-1.86">]</tspan></text>
<rect x="561.00" y="254.60" width="44.80" height="25.70" fill="#fff" stroke="#777" stroke-width="1"/>
<path d="M562.30 261.41h10.5" stroke="#ff0000" stroke-width="1.3"/>
<path d="M562.30 273.62h10.5" stroke="#0000ff" stroke-width="1.3" stroke-dasharray="3.2 1.0 3.2 1.0 1.2 1.0"/>
<text x="573.30" y="264.41" font-size="11.6" fill="#000" stroke="#000" stroke-width="0.12" textLength="29.7" lengthAdjust="spacingAndGlyphs"><tspan>Re[</tspan><tspan font-style="italic">κ</tspan><tspan dy="1.86" font-size="8.12">cs</tspan><tspan dy="-1.86">]</tspan></text>
<text x="573.30" y="276.42" font-size="11.6" fill="#000" stroke="#000" stroke-width="0.12" textLength="29.7" lengthAdjust="spacingAndGlyphs"><tspan>Im[</tspan><tspan font-style="italic">κ</tspan><tspan dy="1.86" font-size="8.12">cs</tspan><tspan dy="-1.86">]</tspan></text>
</svg></body></html>
